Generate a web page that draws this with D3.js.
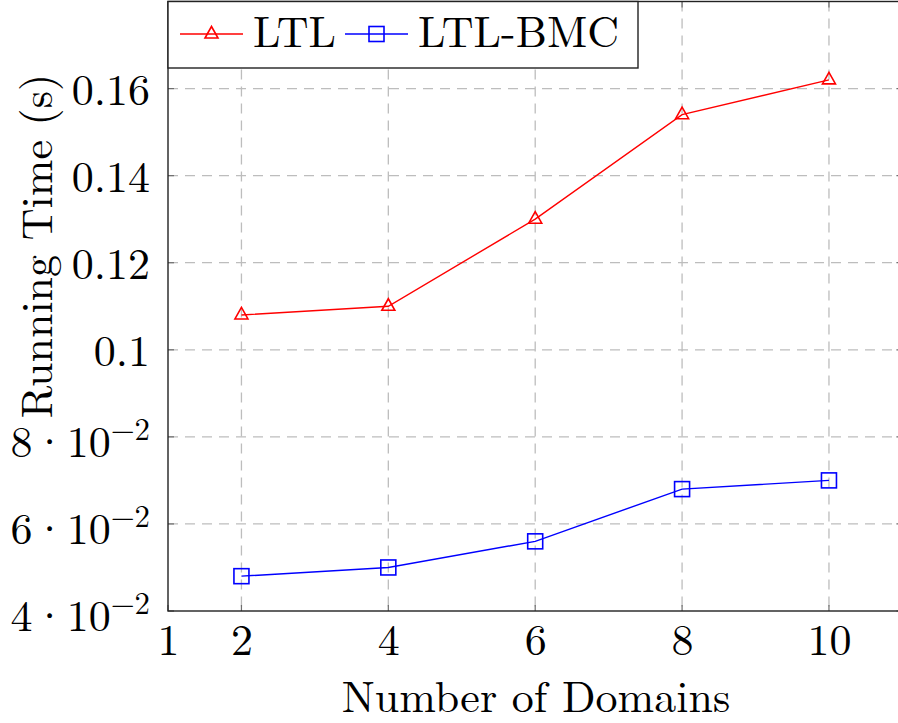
<!DOCTYPE html>
<html>
<head>
<meta charset="utf-8">
<script src="https://cdn.jsdelivr.net/npm/d3@7"></script>
<style>
  html, body { margin: 0; padding: 0; background: #fff; }
  svg { display: block; }
</style>
</head>
<body>
<svg id="chart" width="898" height="723"></svg>
<script>
// Running time versus number of domains
const domains = [2, 4, 6, 8, 10];
const ltlTimes = [0.108, 0.110, 0.130, 0.154, 0.162];
const ltlBmcTimes = [0.048, 0.050, 0.056, 0.068, 0.070];
const seriesNames = ["LTL", "LTL-BMC"];
const xTicks = [1, 2, 4, 6, 8, 10];
const yTicks = [0.04, 0.06, 0.08, 0.10, 0.12, 0.14, 0.16];
const xDomain = [1, 11];
const yDomain = [0.04, 0.18];

const FONT = '"Latin Modern Roman", "Liberation Serif", serif';
const FS = 44;
const plot = { left: 168, right: 902.4, top: 1.5, bottom: 611 };

const svg = d3.select("#chart");

const x = d3.scaleLinear().domain(xDomain).range([plot.left, plot.right]);
const y = d3.scaleLinear().domain(yDomain).range([plot.bottom, plot.top]);

const gridColor = "#bdbdbd";
const tickColor = "#6e6e6e";

// Dashed grid
const grid = svg.append("g");
grid.selectAll("line.gx").data(domains).join("line")
  .attr("x1", d => x(d)).attr("x2", d => x(d))
  .attr("y1", plot.top).attr("y2", plot.bottom)
  .attr("stroke", gridColor).attr("stroke-width", 1.3)
  .attr("stroke-dasharray", "10,7");
grid.selectAll("line.gy").data(yTicks.slice(1)).join("line")
  .attr("x1", plot.left).attr("x2", plot.right)
  .attr("y1", d => y(d)).attr("y2", d => y(d))
  .attr("stroke", gridColor).attr("stroke-width", 1.3)
  .attr("stroke-dasharray", "10,7");

// Inner tick marks on all four sides
const tl = 6;
const ticks = svg.append("g").attr("stroke", tickColor).attr("stroke-width", 1.2);
xTicks.forEach(v => {
  ticks.append("line").attr("x1", x(v)).attr("x2", x(v)).attr("y1", plot.bottom).attr("y2", plot.bottom - tl);
  ticks.append("line").attr("x1", x(v)).attr("x2", x(v)).attr("y1", plot.top).attr("y2", plot.top + tl);
});
yTicks.forEach(v => {
  ticks.append("line").attr("x1", plot.left).attr("x2", plot.left + tl).attr("y1", y(v)).attr("y2", y(v));
  ticks.append("line").attr("x1", plot.right).attr("x2", plot.right - tl).attr("y1", y(v)).attr("y2", y(v));
});

// Axes (tick labels; the frame is drawn separately)
const xAxis = d3.axisBottom(x).tickValues(xTicks).tickSize(0).tickPadding(0)
  .tickFormat(d3.format("d"));
const gx = svg.append("g").attr("transform", `translate(0,${plot.bottom})`).call(xAxis)
  .attr("font-family", FONT).attr("font-size", FS);
gx.select(".domain").remove();
gx.selectAll("text").attr("dy", null).attr("y", 44).attr("fill", "#000");

const yAxis = d3.axisLeft(y).tickValues(yTicks).tickSize(0).tickPadding(0);
const gy = svg.append("g").attr("transform", `translate(${plot.left},0)`).call(yAxis)
  .attr("font-family", FONT).attr("font-size", FS);
gy.select(".domain").remove();
gy.selectAll("text").each(function(d) {
  const t = d3.select(this);
  t.text(null).attr("x", -18).attr("dy", null).attr("fill", "#000").attr("text-anchor", "end");
  if (d < 0.095) {
    // m · 10^-2 notation
    const mant = Math.round(d * 100);
    t.attr("y", 19.5);
    t.append("tspan").text(`${mant}\u00B710`);
    t.append("tspan").attr("font-size", FS * 0.7).attr("dy", -17).text("\u22122");
  } else {
    t.attr("y", 15.5).text(String(+d.toFixed(2)));
  }
});

// Series lines and markers
const line = d3.line().x(d => x(d[0])).y(d => y(d[1]));
const ltlData = domains.map((d, i) => [d, ltlTimes[i]]);
const bmcData = domains.map((d, i) => [d, ltlBmcTimes[i]]);

const red = "#ff0000", blue = "#0000ff";
svg.append("path").datum(ltlData).attr("d", line)
  .attr("fill", "none").attr("stroke", red).attr("stroke-width", 1.4);
svg.append("path").datum(bmcData).attr("d", line)
  .attr("fill", "none").attr("stroke", blue).attr("stroke-width", 1.4);

function triangle(g, cx, cy) {
  g.append("path").attr("d", "M0,-7.5L6.5,4L-6.5,4Z")
    .attr("transform", `translate(${cx},${cy})`)
    .attr("fill", "none").attr("stroke", red).attr("stroke-width", 1.6);
}
function square(g, cx, cy) {
  g.append("rect").attr("x", cx - 7.5).attr("y", cy - 7.5)
    .attr("width", 15).attr("height", 15)
    .attr("fill", "none").attr("stroke", blue).attr("stroke-width", 1.6);
}
const marks = svg.append("g");
ltlData.forEach(d => triangle(marks, x(d[0]), y(d[1])));
bmcData.forEach(d => square(marks, x(d[0]), y(d[1])));

// Axis frame
svg.append("rect")
  .attr("x", plot.left).attr("y", plot.top)
  .attr("width", plot.right - plot.left).attr("height", plot.bottom - plot.top)
  .attr("fill", "none").attr("stroke", "#222").attr("stroke-width", 1.4);

// Legend
const lg = svg.append("g").attr("font-family", FONT).attr("font-size", FS);
lg.append("rect").attr("x", 168).attr("y", 1.5).attr("width", 470).attr("height", 66.5)
  .attr("fill", "#fff").attr("stroke", "#222").attr("stroke-width", 1.4);
const legendItems = [
  { name: seriesNames[0], color: red, x0: 180, text: 253, mark: triangle },
  { name: seriesNames[1], color: blue, x0: 345, text: 418, mark: square }
];
legendItems.forEach(it => {
  lg.append("line").attr("x1", it.x0).attr("x2", it.x0 + 63).attr("y1", 34).attr("y2", 34)
    .attr("stroke", it.color).attr("stroke-width", 1.4);
  it.mark(lg, it.x0 + 31.5, 34);
  lg.append("text").attr("x", it.text).attr("y", 47).attr("fill", "#000").text(it.name);
});

// Axis titles
svg.append("text").attr("x", 536).attr("y", 712).attr("text-anchor", "middle")
  .attr("font-family", FONT).attr("font-size", FS).attr("fill", "#000")
  .text("Number of Domains");
svg.append("text").attr("transform", "translate(52,246) rotate(-90)")
  .attr("text-anchor", "middle").attr("font-family", FONT).attr("font-size", FS)
  .attr("fill", "#000").text("Running Time (s)");
</script>
</body>
</html>
